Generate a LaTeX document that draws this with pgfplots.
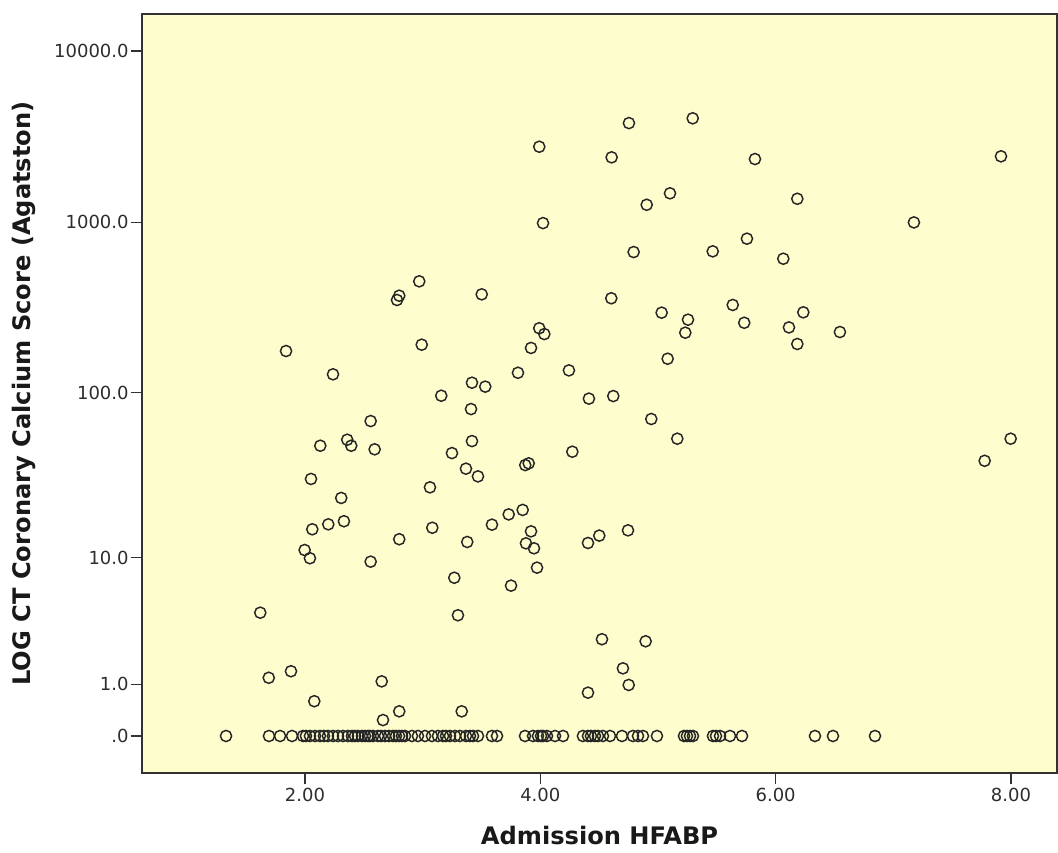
\documentclass[border=0pt]{standalone}
\usepackage{pgfplots}
\usepackage{pgfplotstable}
\pgfplotsset{compat=1.18}
\usepackage{fontspec}
\setmainfont{DejaVu Sans}
\definecolor{bgyellow}{RGB}{254,253,205}
\definecolor{framegray}{RGB}{50,50,50}
\definecolor{ticktext}{RGB}{45,45,45}

% x = Admission HFABP, y = log10(Agatston score + 1)
\pgfplotstableread{
x y
3.991 3.441
4.023 2.995
4.753 3.579
5.295 3.607
4.606 3.379
5.824 3.369
7.915 3.385
5.102 3.169
4.904 3.102
6.184 3.137
7.175 2.999
4.793 2.826
5.465 2.830
5.756 2.904
6.065 2.787
2.971 2.655
2.801 2.571
2.782 2.546
3.502 2.579
3.991 2.381
4.034 2.347
3.921 2.266
1.839 2.248
2.992 2.285
3.810 2.121
4.243 2.135
2.238 2.112
3.419 2.063
3.532 2.040
3.158 1.987
4.413 1.970
3.411 1.909
2.558 1.839
2.130 1.695
2.359 1.730
2.393 1.695
2.592 1.674
3.419 1.722
3.249 1.652
4.272 1.660
3.368 1.561
3.470 1.516
3.872 1.582
3.901 1.592
2.051 1.501
3.062 1.452
2.308 1.390
3.850 1.320
3.731 1.294
4.603 2.556
5.031 2.472
5.255 2.431
5.232 2.355
5.635 2.517
5.733 2.413
6.113 2.386
6.235 2.474
6.184 2.289
6.546 2.359
5.082 2.203
4.620 1.985
4.943 1.851
5.164 1.736
7.997 1.736
7.776 1.607
2.062 1.207
2.198 1.236
2.331 1.254
1.997 1.086
2.042 1.038
2.801 1.149
3.082 1.216
3.589 1.234
2.558 1.018
3.379 1.133
3.921 1.195
3.878 1.125
3.946 1.096
3.972 0.983
3.269 0.924
3.751 0.878
4.405 1.127
4.501 1.170
1.620 0.720
3.300 0.705
4.524 0.565
1.692 0.340
1.881 0.378
2.652 0.319
2.079 0.203
4.405 0.253
2.801 0.144
3.332 0.144
2.663 0.093
4.745 1.201
4.895 0.553
4.702 0.395
4.751 0.298
1.329 0
1.694 0
1.788 0
1.890 0
1.983 0
2.008 0
2.042 0
2.085 0
2.127 0
2.161 0
2.195 0
2.238 0
2.280 0
2.323 0
2.365 0
2.399 0
2.425 0
2.450 0
2.484 0
2.510 0
2.535 0
2.552 0
2.578 0
2.620 0
2.646 0
2.680 0
2.714 0
2.748 0
2.773 0
2.799 0
2.824 0
2.850 0
2.909 0
2.960 0
3.020 0
3.079 0
3.130 0
3.173 0
3.198 0
3.232 0
3.275 0
3.317 0
3.368 0
3.402 0
3.428 0
3.470 0
3.589 0
3.632 0
3.870 0
3.938 0
3.980 0
4.006 0
4.023 0
4.057 0
4.125 0
4.193 0
4.362 0
4.405 0
4.430 0
4.464 0
4.490 0
4.532 0
4.592 0
4.694 0
4.787 0
4.830 0
4.872 0
4.991 0
5.221 0
5.246 0
5.272 0
5.297 0
5.467 0
5.493 0
5.527 0
5.612 0
5.714 0
6.334 0
6.487 0
6.844 0
}\scatterdata

\begin{document}
\begin{tikzpicture}
\useasboundingbox (0,0) rectangle (793.5pt,639.75pt);
\begin{axis}[
  at={(106.5pt,60pt)}, anchor=south west,
  scale only axis,
  width=686.25pt, height=569.25pt,
  xmin=0.6148, xmax=8.391,
  ymin=-0.2161, ymax=4.2161,
  axis background/.style={fill=bgyellow},
  axis line style={draw=framegray, line width=1.3pt},
  xtick={2,4,6,8},
  xticklabels={2.00,4.00,6.00,8.00},
  ytick={0,0.30103,1.04139,2.00432,3.00043,4.00004},
  yticklabels={.0,1.0,10.0,100.0,1000.0,10000.0},
  tick align=outside,
  xtick pos=bottom, ytick pos=left,
  major tick length=8.5pt,
  tick style={draw=framegray, line width=0.9pt},
  /pgf/number format/assume math mode=true,
  ticklabel style={font=\fontsize{13.5pt}{16pt}\selectfont, text=ticktext},
  xticklabel style={yshift=1pt},
  yticklabel style={xshift=2pt},
  xlabel={Admission HFABP},
  ylabel={LOG CT Coronary Calcium Score (Agatston)},
  label style={font=\bfseries\fontsize{18.1pt}{21pt}\selectfont, text=black!90},
  xlabel style={at={(axis description cs:0.5,0)}, anchor=center, yshift=-47.25pt},
  ylabel style={at={(axis description cs:0,0.5)}, anchor=center, xshift=0pt, yshift=88.5pt},
  clip=false,
]
\addplot[only marks, mark=o, mark size=4.2pt,
  mark options={draw=black!85, line width=1.1pt}]
  table[x=x, y=y] {\scatterdata};
\end{axis}
\end{tikzpicture}
\end{document}
